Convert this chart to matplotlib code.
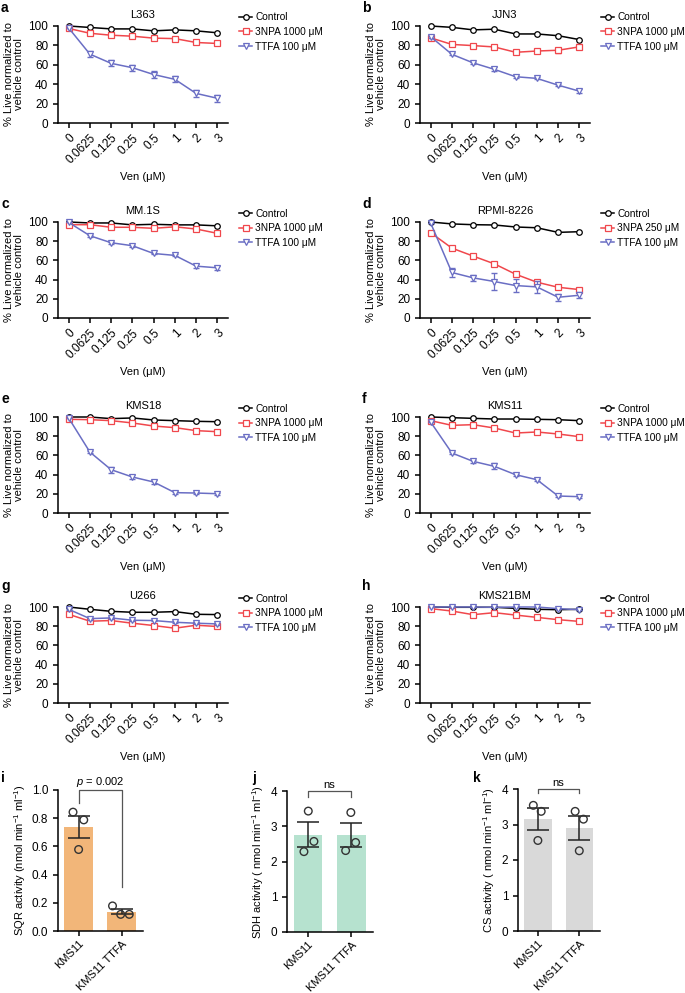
import numpy as np
import matplotlib
matplotlib.use('Agg')
import matplotlib.pyplot as plt

plt.rcParams['font.family'] = ['Liberation Sans', 'DejaVu Sans']
plt.rcParams['mathtext.fontset'] = 'custom'
plt.rcParams['mathtext.rm'] = 'Liberation Sans'
plt.rcParams['mathtext.it'] = 'Liberation Sans:italic'
plt.rcParams['font.size'] = 8
plt.rcParams['xtick.labelsize'] = 8.5
plt.rcParams['ytick.labelsize'] = 8.5
plt.rcParams['axes.linewidth'] = 1.1
plt.rcParams['xtick.major.width'] = 1.1
plt.rcParams['ytick.major.width'] = 1.1
plt.rcParams['xtick.major.size'] = 3.5
plt.rcParams['ytick.major.size'] = 3.5

# doses of venetoclax
ven_labels = ['0', '0.0625', '0.125', '0.25', '0.5', '1', '2', '3']

# a  L363
l363_ctrl = [100, 98.5, 97, 97, 95, 96, 95, 93]
l363_npa = [97.5, 92.5, 90.5, 89.5, 87.5, 87, 83, 82]
l363_npa_err = [0, 1, 1, 1, 1, 1, 1, 1]
l363_ttfa = [98, 71, 61.5, 57, 50, 45, 30.5, 25.5]
l363_ttfa_err = [0, 3, 3, 3, 3.5, 3, 3.5, 3.5]

# b  JJN3
jjn3_ctrl = [100, 98.6, 96, 96.7, 91.8, 91.8, 90, 86]
jjn3_npa = [87.8, 81, 79.8, 78.4, 72.9, 74.2, 75, 78.5]
jjn3_npa_err = [1, 1, 1, 1, 1, 1, 2.5, 2.5]
jjn3_ttfa = [89, 70.8, 62, 55.3, 47.7, 46, 39, 32.8]
jjn3_ttfa_err = [1, 1, 1, 2, 1, 1, 1, 2]

# c  MM.1S
mm1s_ctrl = [100, 99, 99, 97, 97.6, 97, 97, 96]
mm1s_npa = [97.2, 97.2, 94.5, 94.5, 93.4, 95, 92.7, 88.2]
mm1s_npa_err = [1, 1, 1, 1, 1, 1, 1, 1]
mm1s_ttfa = [99.6, 85.7, 78.4, 75.3, 67.2, 65.2, 54, 52.3]
mm1s_ttfa_err = [0, 1, 1, 1, 1, 1, 2, 2]

# d  RPMI-8226
rpmi_ctrl = [100, 98, 97.2, 96.9, 94.8, 94, 89.2, 89.9]
rpmi_npa = [88.9, 72.8, 64.5, 56.4, 45.6, 37.3, 32, 29.6]
rpmi_npa_err = [1, 1, 1, 1, 1, 2, 1, 1]
rpmi_ttfa = [99, 47.4, 41.8, 38, 33.8, 32.4, 21.6, 23.7]
rpmi_ttfa_err = [0, 5, 3.5, 9, 6.5, 6.5, 3.5, 3]

# e  KMS18
kms18_ctrl = [100, 100, 98.3, 99, 96.9, 96.2, 95.5, 95.1]
kms18_npa = [97.6, 97.2, 96.2, 93.8, 90.6, 88.9, 85.8, 84.7]
kms18_npa_err = [1, 1, 1, 1, 1, 1, 1, 1]
kms18_ttfa = [99, 63.5, 45.1, 37.5, 32.3, 21.2, 20.8, 20.1]
kms18_ttfa_err = [0, 1.5, 3, 2.5, 2, 1.5, 1, 1]

# f  KMS11
kms11_ctrl = [100, 99.3, 98.6, 97.9, 97.9, 97.6, 97.2, 96.2]
kms11_npa = [96.2, 91.3, 92, 88.5, 83.3, 84.4, 82.3, 79.5]
kms11_npa_err = [1, 1, 1, 1, 1, 1, 1, 1]
kms11_ttfa = [94.8, 62.5, 53.8, 48.6, 39.9, 34.7, 17.7, 17]
kms11_ttfa_err = [0, 1, 1.5, 3, 1, 1, 1, 1]

# g  U266
u266_ctrl = [100, 97.6, 95.5, 94.5, 94.5, 95.2, 92.4, 92.1]
u266_npa = [92.4, 85.2, 85.9, 83.1, 80.7, 77.9, 81, 79.7]
u266_npa_err = [1, 1, 1, 1, 1, 1, 1, 1]
u266_ttfa = [97.6, 87.9, 88.6, 86.2, 85.9, 84.1, 83.1, 82.4]
u266_ttfa_err = [1, 1, 1, 1, 1, 1, 1, 1]

# h  KMS21BM
kms21_ctrl = [100, 99.7, 99.7, 99.7, 98.6, 97.6, 97.2, 97.6]
kms21_npa = [98.3, 95.8, 92, 94.1, 91.6, 89.2, 86.8, 85]
kms21_npa_err = [1, 1, 1, 1, 1, 1, 1, 1]
kms21_ttfa = [100, 100, 100, 99.7, 100, 100, 98.3, 97.2]
kms21_ttfa_err = [0, 0, 0, 0, 0, 0, 0, 0]

# i-k  enzyme activities
bar_groups = ['KMS11', 'KMS11 TTFA']
sqr_mean = [0.735, 0.137]
sqr_sem = [0.078, 0.019]
sqr_points = [[0.843, 0.788, 0.578], [0.178, 0.118, 0.118]]
sdh_mean = [2.76, 2.75]
sdh_sem = [0.35, 0.33]
sdh_points = [[3.43, 2.57, 2.28], [3.39, 2.54, 2.31]]
cs_mean = [3.15, 2.91]
cs_sem = [0.31, 0.34]
cs_points = [[3.54, 3.37, 2.55], [3.37, 3.15, 2.26]]

C_CTRL = 'black'
C_NPA = '#f0474c'
C_TTFA = '#6a6ec4'

W, H = 685, 993
fig = plt.figure(figsize=(W / 100, H / 100), dpi=100)


def px_axes(left, top, right, bottom):
    return fig.add_axes([left / W, 1 - bottom / H, (right - left) / W, (bottom - top) / H])


def draw_dose(ax, title, ctrl, npa, npa_err, ttfa, ttfa_err, npa_label):
    x = np.arange(len(ven_labels))
    series = [(ctrl, None, 'o', C_CTRL, 4, 'Control', 3),
              (npa, npa_err, 's', C_NPA, 4, npa_label, 4),
              (ttfa, ttfa_err, 'v', C_TTFA, 4.5, 'TTFA 100 μM', 5)]
    for y, err, mk, col, ms, lab, z in series:
        if err is not None:
            ax.errorbar(x, y, yerr=err, fmt='none', ecolor=col, elinewidth=0.9,
                        capsize=2, clip_on=False, zorder=z)
        ax.plot(x, y, '-' + mk, color=col, mfc='white', ms=ms, lw=1.1, mew=0.9,
                label=lab, clip_on=False, zorder=z)
    ax.set_xlim(-0.5, 7.5)
    ax.set_ylim(0, 100)
    ax.set_yticks(range(0, 101, 20))
    ax.set_xticks(x)
    ax.set_xticklabels(ven_labels, rotation=45, ha='right', rotation_mode='anchor')
    ax.tick_params(axis='x', pad=3)
    ax.spines['top'].set_visible(False)
    ax.spines['right'].set_visible(False)
    ax.set_title(title, fontsize=8, pad=6)
    ax.set_xlabel('Ven (μM)', labelpad=4)
    ax.set_ylabel('% Live normalized to\nvehicle control', labelpad=3, linespacing=1.0)
    ax.legend(loc='upper left', bbox_to_anchor=(1.065, 1.14), frameon=False,
              handlelength=1.3, handletextpad=0.3, labelspacing=0.45,
              borderaxespad=0, borderpad=0, fontsize=7.3)


def draw_bars(ax, means, sems, points, jitter, color, ylabel, ymax, yticks, fmt):
    x = np.arange(len(bar_groups))
    ax.bar(x, means, width=0.66, color=color, edgecolor='none', zorder=1)
    ax.errorbar(x, means, yerr=sems, fmt='none', ecolor='#222222', elinewidth=1.1,
                capsize=8, capthick=1.1, zorder=3)
    for i, pts in enumerate(points):
        ax.scatter(np.array(jitter[i]) + i, pts, s=30, facecolor='none',
                   edgecolor='#333333', linewidth=1.0, zorder=4, clip_on=False)
    ax.set_xlim(-0.48, 1.5)
    ax.set_ylim(0, ymax)
    ax.set_yticks(yticks)
    ax.set_yticklabels([fmt.format(t) for t in yticks])
    ax.set_xticks(x)
    ax.set_xticklabels(bar_groups, rotation=45, ha='right', rotation_mode='anchor',
                       fontsize=8)
    ax.tick_params(axis='x', pad=2)
    ax.spines['top'].set_visible(False)
    ax.spines['right'].set_visible(False)
    ax.set_ylabel(ylabel, fontsize=8, labelpad=3)


def bracket(ax, y, left_low, right_low, text):
    ax.plot([0, 0, 1, 1], [left_low, y, y, right_low], color='#555555', lw=0.9,
            clip_on=False)
    ax.text(0.5, y + ax.get_ylim()[1] * 0.01, text, ha='center', va='bottom',
            fontsize=8)


# row geometry in pixels (top, bottom)
rows = [(26, 123), (222, 318), (417, 513), (607, 703)]
col_left = [(58, 228), (420, 590)]

panels = [
    ('a', 'L363', l363_ctrl, l363_npa, l363_npa_err, l363_ttfa, l363_ttfa_err, '3NPA 1000 μM'),
    ('b', 'JJN3', jjn3_ctrl, jjn3_npa, jjn3_npa_err, jjn3_ttfa, jjn3_ttfa_err, '3NPA 1000 μM'),
    ('c', 'MM.1S', mm1s_ctrl, mm1s_npa, mm1s_npa_err, mm1s_ttfa, mm1s_ttfa_err, '3NPA 1000 μM'),
    ('d', 'RPMI-8226', rpmi_ctrl, rpmi_npa, rpmi_npa_err, rpmi_ttfa, rpmi_ttfa_err, '3NPA 250 μM'),
    ('e', 'KMS18', kms18_ctrl, kms18_npa, kms18_npa_err, kms18_ttfa, kms18_ttfa_err, '3NPA 1000 μM'),
    ('f', 'KMS11', kms11_ctrl, kms11_npa, kms11_npa_err, kms11_ttfa, kms11_ttfa_err, '3NPA 1000 μM'),
    ('g', 'U266', u266_ctrl, u266_npa, u266_npa_err, u266_ttfa, u266_ttfa_err, '3NPA 1000 μM'),
    ('h', 'KMS21BM', kms21_ctrl, kms21_npa, kms21_npa_err, kms21_ttfa, kms21_ttfa_err, '3NPA 1000 μM'),
]

letter_y = [8, 204, 399, 586]
for k, p in enumerate(panels):
    r, c = divmod(k, 2)
    top, bottom = rows[r]
    left, right = col_left[c]
    ax = px_axes(left, top, right, bottom)
    draw_dose(ax, *p[1:])
    fig.text((1 if c == 0 else 362) / W, 1 - letter_y[r] / H, p[0], fontsize=10,
             fontweight='bold', va='center', ha='left')

# bottom row
ax_i = px_axes(58, 790, 143, 931)
draw_bars(ax_i, sqr_mean, sqr_sem, sqr_points, [[-0.13, 0.12, 0.0], [-0.21, -0.02, 0.18]],
          '#f2b679', 'SQR activity (nmol min$^{-1}$ ml$^{-1}$)', 1.0,
          [0.0, 0.2, 0.4, 0.6, 0.8, 1.0], '{:.1f}')
bracket(ax_i, 1.0, 0.905, 0.31, '$p$ = 0.002')

ax_j = px_axes(287, 791, 373, 932)
draw_bars(ax_j, sdh_mean, sdh_sem, sdh_points, [[0.01, 0.14, -0.09], [-0.01, 0.1, -0.13]],
          '#b6e2cf', 'SDH activity ( nmol min$^{-1}$ ml$^{-1}$)', 4,
          [0, 1, 2, 3, 4], '{:d}')
bracket(ax_j, 4.0, 3.83, 3.83, 'ns')

ax_k = px_axes(518, 789, 600, 931)
draw_bars(ax_k, cs_mean, cs_sem, cs_points, [[-0.11, 0.08, 0.0], [-0.1, 0.1, 0.0]],
          '#d9d9d9', 'CS activity ( nmol min$^{-1}$ ml$^{-1}$)', 4,
          [0, 1, 2, 3, 4], '{:d}')
bracket(ax_k, 4.0, 3.89, 3.89, 'ns')

for letter, xp in [('i', 1), ('j', 252), ('k', 473)]:
    fig.text(xp / W, 1 - 778 / H, letter, fontsize=10, fontweight='bold',
             va='center', ha='left')

fig.savefig('out.png', dpi=100)
